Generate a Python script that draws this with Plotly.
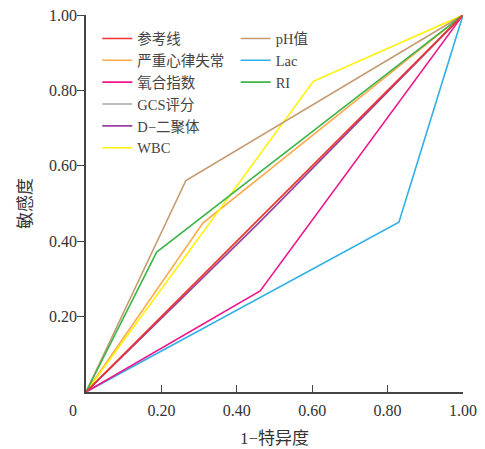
import plotly.graph_objects as go

names = ["参考线", "严重心律失常", "氧合指数", "GCS评分", "D−二聚体", "WBC", "pH值", "Lac", "RI"]
colors = ["#EE3333", "#FFA94D", "#F0148C", "#A8A8A8", "#98429E", "#FFF200", "#C49A70", "#2FB0E6", "#3DB54A"]
fpr = [
    [0, 1],
    [0, 0.31, 1],
    [0, 0.462, 1],
    [0, 0.50, 1],
    [0, 0.453, 1],
    [0, 0.603, 1],
    [0, 0.265, 1],
    [0, 0.83, 1],
    [0, 0.1875, 1],
]
tpr = [
    [0, 1],
    [0, 0.448, 1],
    [0, 0.268, 1],
    [0, 0.490, 1],
    [0, 0.443, 1],
    [0, 0.824, 1],
    [0, 0.561, 1],
    [0, 0.4505, 1],
    [0, 0.371, 1],
]
tick_vals = [0.2, 0.4, 0.6, 0.8, 1.0]
tick_text = ["0.20", "0.40", "0.60", "0.80", "1.00"]

serif = "Liberation Serif, Noto Sans CJK SC, serif"
fig = go.Figure()
order = [7, 1, 2, 3, 4, 5, 6, 8, 0]
for i in order:
    fig.add_trace(go.Scatter(
        x=fpr[i], y=tpr[i], mode="lines", name=names[i],
        line=dict(color=colors[i], width=1.6),
        legend="legend" if i < 6 else "legend2",
        legendrank=i,
    ))

axis_common = dict(
    range=[0, 1], showgrid=False, zeroline=False, showline=True, automargin=False,
    linecolor="#444444", linewidth=1.5, ticklen=7, tickwidth=1.2, tickcolor="#444444",
    tickvals=tick_vals, ticktext=tick_text, ticklabeloverflow="allow",
    tickfont=dict(family=serif, size=16, color="#333333"),
)
fig.update_layout(
    width=477, height=441,
    margin=dict(l=78, r=22, t=7, b=57, autoexpand=False),
    plot_bgcolor="white", paper_bgcolor="white",
    xaxis=dict(**axis_common, ticks="inside", ticklabelstandoff=3,
               title=dict(text="1−特异度", font=dict(family=serif, size=17, color="#333333"), standoff=14)),
    yaxis=dict(**axis_common, ticks="outside", ticklabelstandoff=-3,
               title=dict(text="敏感度", font=dict(family=serif, size=17, color="#333333"), standoff=13)),
    legend=dict(x=0.03, y=0.98, xanchor="left", yanchor="top", bgcolor="rgba(0,0,0,0)",
                font=dict(family=serif, size=14.5, color="#444444"), tracegroupgap=0,
                itemwidth=30, traceorder="normal"),
    legend2=dict(x=0.397, y=0.98, xanchor="left", yanchor="top", bgcolor="rgba(0,0,0,0)",
                 font=dict(family=serif, size=14.5, color="#444444"), tracegroupgap=0,
                 itemwidth=30, traceorder="normal"),
    showlegend=True,
)
fig.add_annotation(x=0, y=0, xref="paper", yref="paper", text="0", showarrow=False,
                   xshift=-19, yshift=-29, font=dict(family=serif, size=16, color="#333333"))
fig.write_html("out.html")
